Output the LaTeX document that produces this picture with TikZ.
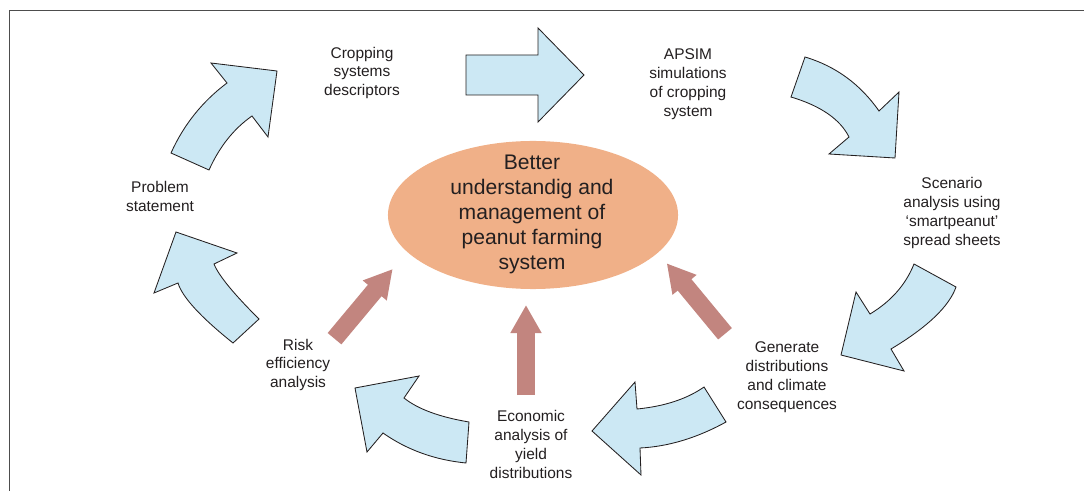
\documentclass[tikz,border=0pt]{standalone}
\usepackage{fontspec}
\setmainfont{Liberation Sans}
\setsansfont{Liberation Sans}
\usetikzlibrary{arrows.meta,shapes.geometric}
\definecolor{ink}{HTML}{231F20}
\definecolor{frame}{HTML}{4D4D4D}
\definecolor{sky}{HTML}{CCE8F4}
\definecolor{peach}{HTML}{F0B088}
\definecolor{clay}{HTML}{C2857F}
\tikzset{
  font=\sffamily,
  stage/.style={
    align=center,
    text=ink,
    inner sep=1pt,
    font=\sffamily\fontsize{11}{13.5}\selectfont
  },
  bluearrow/.style={
    fill=sky,
    draw=ink,
    line width=0.6pt,
    line join=miter
  },
  feed/.style={
    -{Triangle[length=7mm,width=7.3mm]},
    draw=clay,
    line width=4.45mm
  }
}

\begin{document}
\begin{tikzpicture}[
  x=0.025cm, y=-0.025cm,
  %===========================================================
  % Centre ellipse
  %===========================================================
  hub/.style={
    ellipse,
    fill=peach,
    draw=none,
    inner sep=0pt,
    minimum width=7.25cm,
    minimum height=3.7cm
  },
  hubtext/.style={
    align=center,
    text=ink,
    font=\sffamily\fontsize{15}{17.8}\selectfont
  }
]
  \useasboundingbox (0,0) rectangle (1084,491);

  % frame (top and left edge only)
  \draw[frame, line width=0.7pt] (1084,10) -- (9,10) -- (9,491);

  %====================================================================
  % Hub
  %====================================================================
  \node[hub] (hub) at (533,215) {};
  \node[hubtext] (hubtxt) at (532,214)
    {Better\\understandig and\\management of\\peanut farming\\system};

  %====================================================================
  % Stages round the cycle, clockwise from the left
  %====================================================================
  \node[stage] (problem)  at (160,196) {Problem\\statement};
  \node[stage] (crop)     at (362,73)  {Cropping\\systems\\descriptors};
  \node[stage] (apsim)    at (688,84)  {APSIM\\simulations\\of cropping\\system};
  \node[stage] (scenario) at (952,213) {Scenario\\analysis using\\‘smartpeanut’\\spread sheets};
  \node[stage] (generate) at (787,377) {Generate\\distributions\\and climate\\consequences};
  \node[stage] (economic) at (531,444) {Economic\\analysis of\\yield\\distributions};
  \node[stage] (risk)     at (298,365) {Risk\\efficiency\\analysis};

  %====================================================================
  % Block arrows of the cycle
  %====================================================================
  % problem -> cropping
  \draw[bluearrow] (171,153) -- (209,170)
    .. controls (219.5,146.7) and (233.8,128.7) .. (252,116)
    -- (268,137) -- (277,71) -- (211,63) -- (227,83)
    .. controls (202.3,101.5) and (183.7,124.8) .. (171,153) -- cycle;

  % cropping -> apsim
  \draw[bluearrow] (466,55) -- (538,55) -- (538,28) -- (584,75)
    -- (538,122) -- (538,95) -- (466,95) -- cycle;

  % apsim -> scenario
  \draw[bluearrow] (805,57) -- (791,97)
    .. controls (820.8,105.9) and (840.1,119.3) .. (849,137)
    -- (829,154) -- (895,158) -- (899,92) -- (879,111)
    .. controls (860.2,84.1) and (835.5,66.1) .. (805,57) -- cycle;

  % scenario -> generate
  \draw[bluearrow] (914,264) -- (956,287)
    .. controls (949.2,306.4) and (927.5,327.1) .. (891,349)
    -- (904,371) -- (841,355) -- (856,292) -- (870,314)
    .. controls (891.1,301.3) and (905.7,284.7) .. (914,264) -- cycle;

  % generate -> economic
  \draw[bluearrow] (704,387) -- (726,422)
    .. controls (697.1,437.9) and (668.4,446.6) .. (640,448)
    -- (641,475) -- (592,431) -- (635,382) -- (637,409)
    .. controls (664.7,406.3) and (687,398.9) .. (704,387) -- cycle;

  % economic -> risk
  \draw[bluearrow] (469,422) -- (466,463)
    .. controls (434.7,459.9) and (407,449.9) .. (383,433)
    -- (367,452) -- (355,388) -- (419,376) -- (404,398)
    .. controls (417.7,409) and (439.4,417) .. (469,422) -- cycle;

  % risk -> problem
  \draw[bluearrow] (259,319) -- (233,343)
    .. controls (200.5,317) and (182.2,297) .. (178,283)
    -- (154,293) -- (176,232) -- (237,253) -- (214,264)
    .. controls (218.5,275.3) and (233.5,293.7) .. (259,319) -- cycle;

  %====================================================================
  % Feedback arrows into the hub
  %====================================================================
  \coordinate (riskfrom) at (334.5,338.7);
  \coordinate (riskto)   at (392.7,269);
  \coordinate (econfrom) at (526,395);
  \coordinate (econto)   at (526,305);
  \coordinate (genfrom)  at (725,333.8);
  \coordinate (gento)    at (666.7,263.3);

  \draw[feed] (riskfrom) -- (riskto);
  \draw[feed] (econfrom) -- (econto);
  \draw[feed] (genfrom)  -- (gento);

\end{tikzpicture}
\end{document}
